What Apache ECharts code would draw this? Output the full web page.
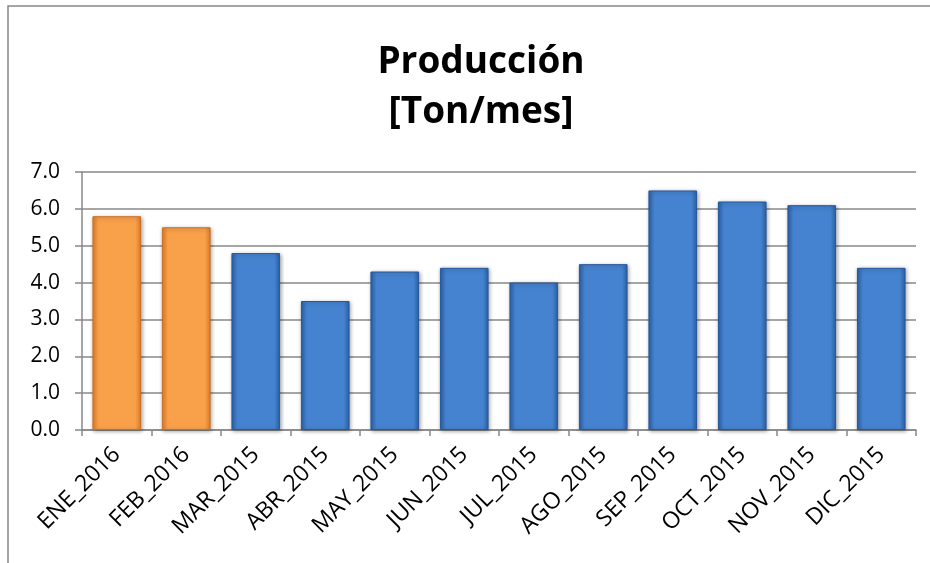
<!DOCTYPE html>
<html><head><meta charset="utf-8">
<script src="https://cdn.jsdelivr.net/npm/echarts@6/dist/echarts.min.js"></script>
<style>html,body{margin:0;padding:0;background:#fff}#c{width:930px;height:563px}</style>
</head><body><div id="c"></div>
<script>
var categories = ['ENE_2016','FEB_2016','MAR_2015','ABR_2015','MAY_2015','JUN_2015','JUL_2015','AGO_2015','SEP_2015','OCT_2015','NOV_2015','DIC_2015'];
var values = [5.8, 5.5, 4.8, 3.5, 4.3, 4.4, 4.0, 4.5, 6.5, 6.2, 6.1, 4.4];
var highlighted = ['ENE_2016','FEB_2016'];

function grad(edge, mid) {
  return new echarts.graphic.LinearGradient(0,0,1,0,[
    {offset:0,color:edge},{offset:0.12,color:mid},{offset:0.88,color:mid},{offset:1,color:edge}]);
}
var orange = grad('#e47f2a','#f9a04b');
var blue = grad('#2d62a8','#4583d0');
var font = '"Open Sans", sans-serif';

var chart = echarts.init(document.getElementById('c'));
chart.setOption({
  animation:false,
  title:{text:'Producción\n[Ton/mes]',left:476,top:32,textAlign:'center',
    textStyle:{fontFamily:font,fontWeight:'bold',fontSize:37,lineHeight:50,color:'#000',align:'center'}},
  grid:{left:82,right:14,top:172,bottom:133},
  graphic:[{type:'polyline',shape:{points:[[8,563],[8,6],[930,6]]},style:{stroke:'#888',lineWidth:1.5,fill:null}}],
  xAxis:{type:'category',data:categories,
    axisLine:{lineStyle:{color:'#888',width:1.5}},
    axisTick:{show:true,alignWithLabel:false,length:6,lineStyle:{color:'#888',width:1.5}},
    axisLabel:{rotate:45,interval:0,fontSize:23,color:'#000',fontFamily:font,margin:21}},
  yAxis:{type:'value',min:0,max:7,interval:1,
    axisLine:{show:true,lineStyle:{color:'#888',width:1.5}},
    axisTick:{show:true,length:7,lineStyle:{color:'#888',width:1.5}},
    splitLine:{lineStyle:{color:'#888',width:1.5}},
    axisLabel:{formatter:function(v){return v.toFixed(1);},fontSize:21,color:'#000',fontFamily:font,margin:22}},
  series:[{type:'bar',barWidth:'70%',
    data:values.map(function(v,i){
      var hl = highlighted.indexOf(categories[i])>=0;
      return {value:v,itemStyle:{color:hl?orange:blue,borderColor:hl?'#c96f23':'#27579a',borderWidth:1,
        shadowColor:'rgba(0,0,0,0.35)',shadowBlur:4,shadowOffsetX:1,shadowOffsetY:1}};
    })}]
});
</script></body></html>
